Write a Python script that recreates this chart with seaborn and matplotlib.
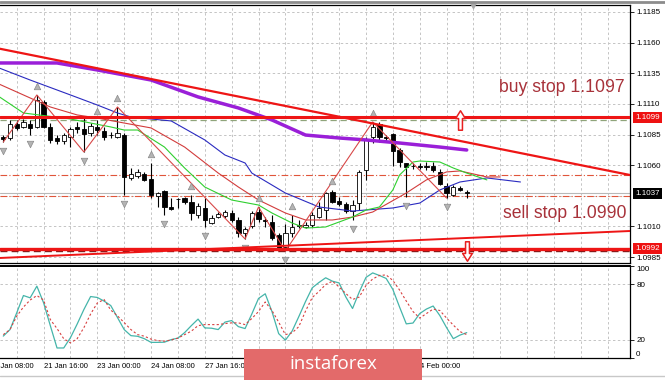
import numpy as np
import matplotlib
matplotlib.use("Agg")
import matplotlib.pyplot as plt
import seaborn as sns
from matplotlib.path import Path
from matplotlib.patches import Rectangle
from matplotlib.lines import Line2D

# ---------------- data (EURUSD H4) ----------------
opens = [1.10830,1.10822,1.10936,1.10912,1.10936,1.10912,1.11116,1.10912,1.10822,1.10797,
         1.10830,1.10912,1.10895,1.10863,1.10912,1.10879,1.10846,1.10830,1.10846,1.10496,
         1.10512,1.10528,1.10488,1.10349,1.10390,1.10259,1.10324,1.10332,1.10300,1.10194,
         1.10251,1.10128,1.10177,1.10185,1.10210,1.10153,1.10047,1.10104,1.10218,1.10153,
         1.10136,1.10030,1.09933,1.10047,1.10104,1.10096,1.10112,1.10177,1.10234,1.10381,
         1.10308,1.10283,1.10226,1.10291,1.10561,1.10830,1.10936,1.10830,1.10854,1.10724,
         1.10618,1.10594,1.10594,1.10594,1.10594,1.10545,1.10430,1.10357,1.10414,1.10381]
highs = [1.10846,1.10969,1.10969,1.10977,1.10969,1.11173,1.11132,1.10944,1.10846,1.10863,
         1.10912,1.10953,1.10985,1.10944,1.10969,1.10912,1.10871,1.11075,1.10863,1.10577,
         1.10569,1.10545,1.10618,1.10381,1.10398,1.10332,1.10332,1.10340,1.10357,1.10291,
         1.10332,1.10194,1.10218,1.10234,1.10234,1.10177,1.10096,1.10226,1.10259,1.10177,
         1.10194,1.10047,1.10120,1.10194,1.10153,1.10136,1.10218,1.10300,1.10381,1.10398,
         1.10340,1.10300,1.10316,1.10561,1.10830,1.10953,1.10953,1.10846,1.10863,1.10740,
         1.10618,1.10618,1.10618,1.10626,1.10626,1.10569,1.10455,1.10438,1.10430,1.10398]
lows = [1.10789,1.10804,1.10887,1.10904,1.10846,1.10904,1.10904,1.10781,1.10773,1.10773,
        1.10748,1.10863,1.10708,1.10838,1.10846,1.10804,1.10822,1.10822,1.10357,1.10480,
        1.10496,1.10471,1.10332,1.10259,1.10194,1.10234,1.10251,1.10283,1.10153,1.10169,
        1.10096,1.10120,1.10169,1.10169,1.10136,1.10014,1.09998,1.10087,1.10136,1.10096,
        1.09990,1.09916,1.09900,1.10014,1.10087,1.10087,1.10096,1.10169,1.10153,1.10291,
        1.10267,1.10210,1.10153,1.10234,1.10480,1.10781,1.10789,1.10797,1.10594,1.10585,
        1.10340,1.10569,1.10569,1.10561,1.10545,1.10438,1.10332,1.10349,1.10390,1.10332]
closes = [1.10814,1.10936,1.10904,1.10953,1.10904,1.11132,1.10912,1.10804,1.10797,1.10846,
          1.10895,1.10895,1.10854,1.10920,1.10887,1.10830,1.10848,1.10863,1.10504,1.10528,
          1.10545,1.10480,1.10357,1.10373,1.10259,1.10243,1.10322,1.10300,1.10210,1.10267,
          1.10153,1.10169,1.10202,1.10218,1.10153,1.10047,1.10079,1.10210,1.10161,1.10145,
          1.10006,1.09924,1.10047,1.10096,1.10112,1.10112,1.10194,1.10251,1.10373,1.10300,
          1.10283,1.10226,1.10275,1.10545,1.10804,1.10912,1.10830,1.10822,1.10716,1.10626,
          1.10585,1.10592,1.10585,1.10585,1.10561,1.10447,1.10373,1.10422,1.10398,1.10373]

# long moving average (purple)
ma_idx = [-1, 8, 14, 22, 29, 35, 40, 45, 50, 54, 59, 65, 69]
ma_val = [1.11434, 1.11434, 1.11377, 1.11295, 1.11157, 1.11067, 1.10969, 1.10846,
          1.10822, 1.10806, 1.10781, 1.10748, 1.10724]

# Alligator: jaw (blue), teeth (red), lips (green)
jaw_idx = [-1, 4, 10, 14, 17, 19, 25, 30, 33, 36, 37, 42, 47, 52, 58, 62, 65, 68, 72, 77]
jaw_val = [1.11401, 1.11295, 1.11173, 1.11091, 1.11026, 1.10993, 1.10961, 1.10806, 1.10683,
           1.10618, 1.10536, 1.10373, 1.10259, 1.10226, 1.10251, 1.10291, 1.10398, 1.10463,
           1.10496, 1.10463]
teeth_idx = [-1, 7, 11, 14, 18, 22, 27, 32, 35, 38, 42, 45, 49, 52, 55, 60, 63, 66, 68, 72, 74]
teeth_val = [1.11271, 1.11075, 1.11010, 1.10985, 1.10944, 1.10904, 1.10748, 1.10536, 1.10422,
             1.10316, 1.10210, 1.10153, 1.10153, 1.10177, 1.10218, 1.10373, 1.10480, 1.10545,
             1.10553, 1.10504, 1.10504]
lips_idx = [-1, 3, 10, 13, 16, 18, 20, 24, 27, 30, 34, 38, 40, 43, 45, 48, 52, 54, 56, 58,
            59, 61, 62, 65, 67, 69, 72]
lips_val = [1.11173, 1.11026, 1.10977, 1.10944, 1.10912, 1.10887, 1.10887, 1.10748, 1.10577,
            1.10422, 1.10316, 1.10275, 1.10210, 1.10128, 1.10087, 1.10096, 1.10177, 1.10234,
            1.10259, 1.10398, 1.10520, 1.10626, 1.10634, 1.10626, 1.10577, 1.10536, 1.10480]

# ZigZag vertices and fractals
zz_idx = [0, 5, 12, 17, 36, 38, 42, 55, 66]
zz_val = [1.10789, 1.11173, 1.10708, 1.11075, 1.09998, 1.10259, 1.09900, 1.10953, 1.10332]
frac_up_idx = [5, 14, 17, 22, 28, 38, 43, 49, 55]
frac_dn_idx = [0, 4, 12, 18, 24, 30, 36, 42, 52, 60, 66]

# drawn objects
trend_down_x = [-0.5, 93.3]
trend_down_y = [1.11550, 1.10520]
trend_up_x = [-0.5, 93.3]
trend_up_y = [1.09843, 1.10063]
resistance = 1.1099
support = 1.0992
buy_stop = 1.1097
sell_stop = 1.0990
dash_levels = [1.10520, 1.10349]
bid = 1.1037

# Stochastic oscillator
stoch_main = [23.8,30.9,49.1,67.9,65.4,78.1,60.0,35.2,10.9,10.9,
              22.1,36.9,52.7,66.8,65.8,61.9,57.0,44.0,30.9,24.3,
              23.6,21.0,17.0,17.0,17.2,20.0,21.6,27.6,35.2,42.3,
              32.7,32.4,30.9,39.0,40.7,34.1,32.0,47.8,64.7,69.8,
              50.5,26.5,19.4,29.2,45.0,61.4,76.3,82.1,87.2,83.5,
              81.6,66.3,53.8,71.8,87.6,92.5,89.7,86.5,74.5,55.4,
              37.1,38.0,48.3,53.2,56.5,46.1,33.0,21.0,24.9,27.6]
stoch_signal = [25.4,30.9,45.4,55.4,63.0,67.9,63.0,41.8,32.0,21.0,
                16.4,21.0,33.0,47.8,59.8,63.6,52.1,45.8,38.5,30.9,
                25.4,23.7,20.5,18.9,18.3,19.6,21.6,25.4,29.2,35.2,
                36.3,36.3,36.3,37.4,38.2,38.2,36.3,42.9,50.5,60.9,
                51.6,39.0,25.4,27.3,34.1,51.0,65.8,72.3,79.9,83.5,
                77.2,70.1,63.6,66.3,78.8,85.9,89.7,90.3,84.3,73.9,
                61.9,50.5,43.4,48.3,53.2,51.6,43.4,35.8,28.7,25.4]

price_ticks = [1.0985, 1.1010, 1.1060, 1.1085, 1.1110, 1.1135, 1.1160, 1.1185]
grid_prices = [1.0985, 1.1010, 1.1035, 1.1060, 1.1085, 1.1110, 1.1135, 1.1160, 1.1185]
# date labels visible in the screenshot (the others are hidden under the logo)
date_idx = [-2, 6, 14, 22, 30, 62]
date_labels = ["20 Jan 08:00", "21 Jan 16:00", "23 Jan 00:00", "24 Jan 08:00",
               "27 Jan 16:00", "4 Feb 00:00"]
stoch_ticks = [0, 20, 80, 100]

# ---------------- figure ----------------
sns.set_theme(style="white")
plt.rcParams['font.family'] = ['Liberation Sans', 'DejaVu Sans']

W, H = 665, 380
fig = plt.figure(figsize=(W / 100, H / 100), dpi=100)
fig.patch.set_facecolor("white")
ax = fig.add_axes([0, 1 - 263 / H, 630 / W, 258 / H])
ax2 = fig.add_axes([0, 1 - 358 / H, 630 / W, 92 / H])

XL = (-0.49, 93.31)
bars = np.arange(len(opens))
grid_kw = dict(color="#c4c4c4", linestyle=(0, (2.5, 2.5)), linewidth=0.7, zorder=0)

for a in (ax, ax2):
    a.set_facecolor("white")
    a.set_xlim(*XL)
    for x in np.arange(2, 94, 4):
        a.axvline(x, **grid_kw)
    a.spines["left"].set_visible(False)
    for s in ("right", "top", "bottom"):
        a.spines[s].set_visible(True)
        a.spines[s].set_color("black")
        a.spines[s].set_linewidth(0.9)
    a.set_xticks([])
    a.yaxis.tick_right()
    a.tick_params(axis="y", direction="out", length=3, width=0.6, colors="black",
                  labelsize=5.8, pad=1.5, right=True, left=False)

# ---- main panel ----
ax.set_ylim(1.09802, 1.11907)
for p in grid_prices:
    ax.axhline(p, **grid_kw)
ax.set_yticks(price_ticks)
ax.set_yticklabels([f"{v:.4f}" for v in price_ticks])

# candles
o = np.array(opens); c = np.array(closes); hi = np.array(highs); lo = np.array(lows)
ax.vlines(bars, lo, hi, color="black", linewidth=0.8, zorder=3)
up = c >= o
body_bottom = np.minimum(o, c)
body_h = np.maximum(np.abs(c - o), 0.000015)
ax.bar(bars[up], body_h[up], bottom=body_bottom[up], width=0.64, color="white",
       edgecolor="black", linewidth=0.6, zorder=3.2)
ax.bar(bars[~up], body_h[~up], bottom=body_bottom[~up], width=0.64, color="black",
       edgecolor="black", linewidth=0.6, zorder=3.2)

# indicators
sns.lineplot(x=ma_idx, y=ma_val, ax=ax, color="#9a1fd8", linewidth=2.5, estimator=None,
             sort=False, legend=False, zorder=4)
sns.lineplot(x=jaw_idx, y=jaw_val, ax=ax, color="#2a2ac0", linewidth=0.8, estimator=None,
             sort=False, legend=False, zorder=4)
sns.lineplot(x=teeth_idx, y=teeth_val, ax=ax, color="#d23c3c", linewidth=0.8, estimator=None,
             sort=False, legend=False, zorder=4)
sns.lineplot(x=lips_idx, y=lips_val, ax=ax, color="#2fcf2f", linewidth=0.8, estimator=None,
             sort=False, legend=False, zorder=4)
sns.lineplot(x=zz_idx, y=zz_val, ax=ax, color="#d84848", linewidth=0.8, estimator=None,
             sort=False, legend=False, zorder=4)

fr_off = 0.0007
sns.scatterplot(x=frac_up_idx, y=[highs[i] + fr_off for i in frac_up_idx], ax=ax,
                marker="^", s=22, color="#b4b4b4", edgecolor="#8a8a8a", linewidth=0.5,
                legend=False, zorder=4.5)
sns.scatterplot(x=frac_dn_idx, y=[lows[i] - fr_off for i in frac_dn_idx], ax=ax,
                marker="v", s=22, color="#b4b4b4", edgecolor="#8a8a8a", linewidth=0.5,
                legend=False, zorder=4.5)

# horizontal levels
for lv in dash_levels:
    ax.axhline(lv, color="#e0553a", linewidth=0.8, linestyle=(0, (6, 2, 1, 2)), zorder=2)
ax.axhline(bid, color="#b8b8b8", linewidth=0.8, zorder=1.5)
ax.axhline(buy_stop, color="#8fa47a", linewidth=0.9, linestyle=(0, (5, 3)), zorder=2)
ax.axhline(resistance, color="#ee1515", linewidth=2.2, zorder=5)
ax.axhline(sell_stop, color="#7a1a1a", linewidth=1.0, linestyle=(0, (5, 3)), zorder=4.8)
ax.axhline(support, color="#ee1515", linewidth=2.4, zorder=5)

# trend lines
sns.lineplot(x=trend_down_x, y=trend_down_y, ax=ax, color="#ee1515", linewidth=1.6,
             estimator=None, sort=False, legend=False, zorder=5)
sns.lineplot(x=trend_up_x, y=trend_up_y, ax=ax, color="#ee1515", linewidth=1.4,
             estimator=None, sort=False, legend=False, zorder=5)

# stop-order arrows
arrow_up = Path([(0, 1), (0.5, 0.2), (0.2, 0.2), (0.2, -1), (-0.2, -1), (-0.2, 0.2),
                 (-0.5, 0.2), (0, 1)], closed=True)
arrow_dn = Path([(0, -1), (0.5, -0.2), (0.2, -0.2), (0.2, 1), (-0.2, 1), (-0.2, -0.2),
                 (-0.5, -0.2), (0, -1)], closed=True)
ax.plot([68], [buy_stop], marker=arrow_up, markersize=14, markerfacecolor="white",
        markeredgecolor="#e82020", markeredgewidth=1.1, linestyle="none", zorder=6)
ax.plot([69], [sell_stop], marker=arrow_dn, markersize=14, markerfacecolor="white",
        markeredgecolor="#e82020", markeredgewidth=1.1, linestyle="none", zorder=6)

# chart shift marker
ax.plot([70], [ax.get_ylim()[1]], marker="v", markersize=4.5, color="#a8a8a8",
        linestyle="none", clip_on=False, zorder=6)

# text labels
ax.text(0.992, 0.682, "buy stop 1.1097", transform=ax.transAxes, ha="right", va="center",
        fontsize=12.7, color="#a8323a")
ax.text(0.995, 0.19, "sell stop 1.0990", transform=ax.transAxes, ha="right", va="center",
        fontsize=12.7, color="#a8323a")

ytr = ax.get_yaxis_transform()
for val, fc in ((resistance, "#ee1111"), (bid, "black"), (support, "#ee1111")):
    ax.text(1.008, val, f"{val:.4f}", transform=ytr, ha="left", va="center", fontsize=5.8,
            color="white", clip_on=False, zorder=10,
            bbox=dict(boxstyle="square,pad=0.25", fc=fc, ec="none"))

# ---- lower panel (stochastic) ----
ax2.set_ylim(0, 100)
for lv in (20, 80):
    ax2.axhline(lv, **grid_kw)
sns.lineplot(x=bars, y=stoch_main, ax=ax2, color="#45b5aa", linewidth=0.9, estimator=None,
             sort=False, legend=False, zorder=3)
sns.lineplot(x=bars, y=stoch_signal, ax=ax2, color="#d84040", linewidth=0.8,
             linestyle=(0, (2, 2)), estimator=None, sort=False, legend=False, zorder=3)
ax2.set_yticks(stoch_ticks)
ax2.set_yticklabels([str(t) for t in stoch_ticks])
for lbl, t in zip(ax2.get_yticklabels(), stoch_ticks):
    if t == 100:
        lbl.set_va("top")
    elif t == 0:
        lbl.set_va("bottom")
ax2.spines["top"].set_linewidth(1.4)

xtr = ax2.get_xaxis_transform()
for xi, lab in zip(date_idx, date_labels):
    ax2.text(xi, -0.087, lab, transform=xtr, ha="left", va="center", fontsize=5.5,
             color="black", clip_on=False)

# frame lines
fig.add_artist(Line2D([0, 1], [1 - 1.5 / H, 1 - 1.5 / H], transform=fig.transFigure,
                      color="#8c8c8c", linewidth=2.0))
fig.add_artist(Line2D([0, 1], [1 - 376 / H, 1 - 376 / H], transform=fig.transFigure,
                      color="#c8c8c8", linewidth=1.0))

# logo
fig.add_artist(Rectangle((244 / W, 0), (422 - 244) / W, (380 - 349) / H,
                         transform=fig.transFigure, facecolor="#e36a6a", edgecolor="none",
                         zorder=20))
fig.text(333 / W, 1 - 364 / H, "instaforex", ha="center", va="center", fontsize=13.5,
         color="white", family=["Open Sans", "DejaVu Sans"], zorder=21)

fig.savefig("out.png", dpi=100, facecolor="white")
